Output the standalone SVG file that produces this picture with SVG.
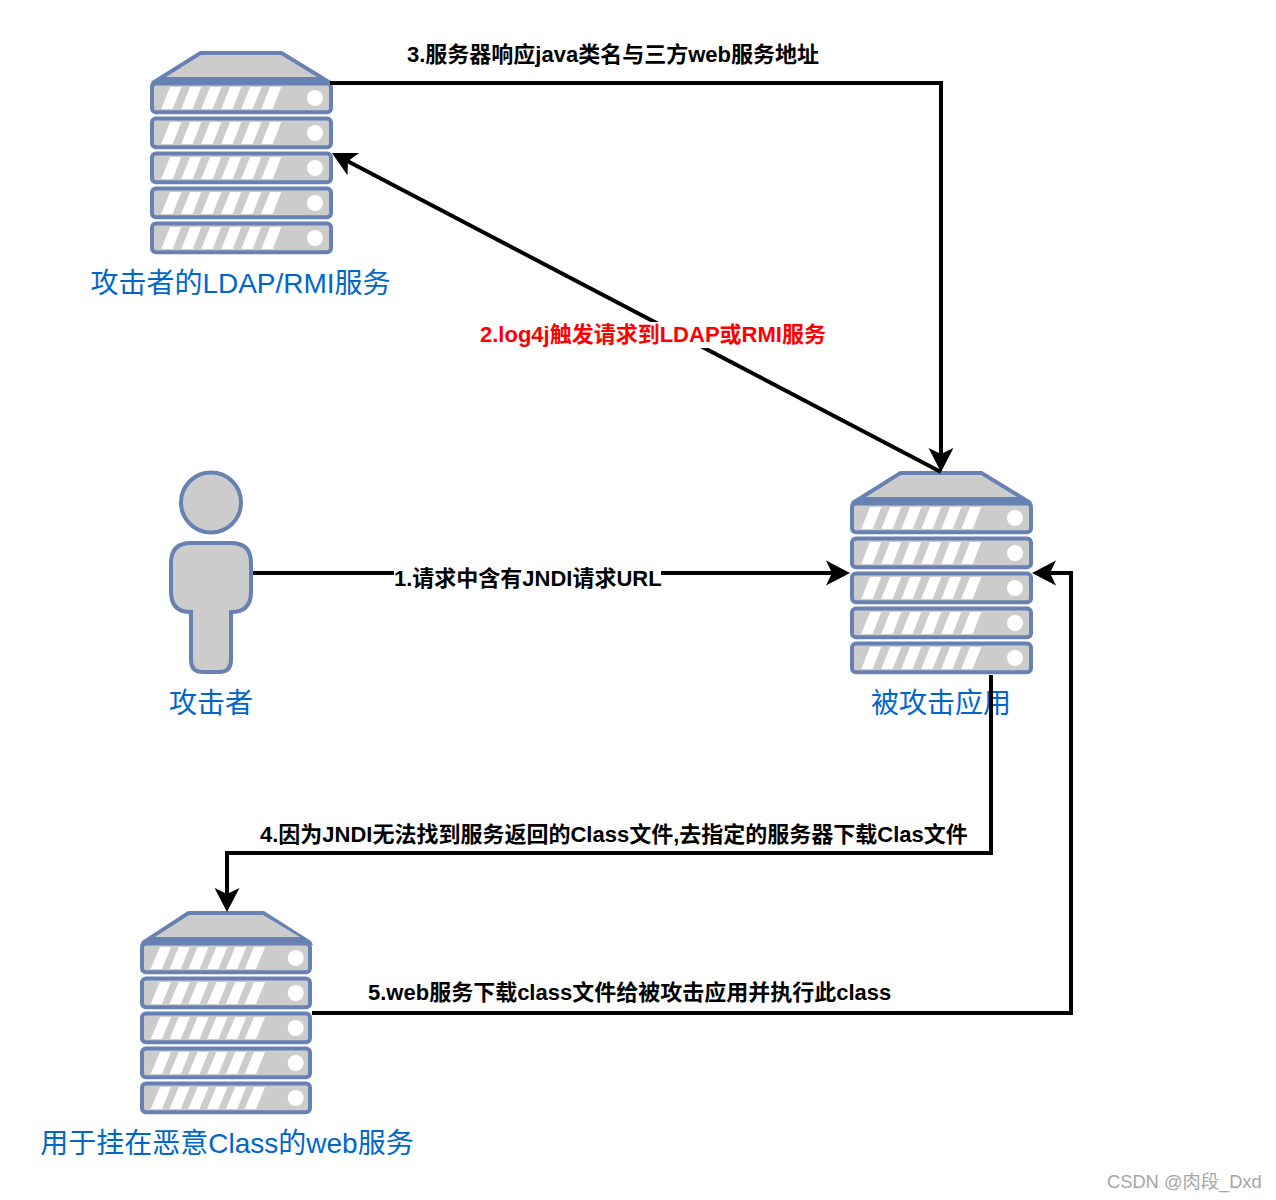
<svg xmlns="http://www.w3.org/2000/svg" width="1276" height="1200" viewBox="0 0 1276 1200">
<style>
text{font-family:"Liberation Sans","Noto Sans CJK SC",sans-serif}
.nl{font-size:28px;fill:#0066CC;text-anchor:middle}
.el{font-size:22px;font-weight:bold;fill:#000}
.bar{fill:#CCCCCC;stroke:#6881B3;stroke-width:4}
.tb{fill:#6881B3}
.tg{fill:#CCCCCC}
.w{fill:#fff}
.c{fill:none;stroke:#000;stroke-width:4;stroke-linejoin:miter}
</style>
<defs>
<marker id="arr" markerUnits="userSpaceOnUse" markerWidth="26" markerHeight="28" viewBox="0 -14 26 28" refX="18" refY="0" orient="auto">
<path d="M0,-12.500 L24,0 L0,12.500 L6,0 Z" fill="#000"/>
</marker>
<path id="sl" d="M161.300,109 L170,87 L181.300,87 L172.700,109 Z" class="w"/>
<g id="row">
<rect class="bar" x="152" y="83.500" width="179" height="28.700" rx="4"/>
<use href="#sl"/><use href="#sl" x="20"/><use href="#sl" x="40"/><use href="#sl" x="60"/><use href="#sl" x="80"/><use href="#sl" x="100"/>
<circle class="w" cx="315" cy="98" r="8"/>
</g>
<g id="srv">
<path class="tb" d="M150,85 L152,81 L200,51 L282,51 L331,81 L333,85 Z"/>
<path class="tg" d="M166,77 L201,55 L281,55 L317,77 Z"/>
<use href="#row"/><use href="#row" y="35"/><use href="#row" y="70"/><use href="#row" y="105"/><use href="#row" y="140"/>
</g>
<path id="sl3" d="M150.700,969 L160,947 L171,947 L162,969 Z" class="w"/>
<g id="row3">
<rect class="bar" x="142" y="943.500" width="168" height="28.700" rx="4"/>
<use href="#sl3"/><use href="#sl3" x="18.800"/><use href="#sl3" x="37.600"/><use href="#sl3" x="56.400"/><use href="#sl3" x="75.200"/><use href="#sl3" x="94"/>
<circle class="w" cx="295.700" cy="958" r="8"/>
</g>
</defs>
<rect width="1276" height="1200" fill="#fff"/>
<g id="node-ldap">
<use href="#srv"/>
<text class="nl" x="240.500" y="293">攻击者的LDAP/RMI服务</text>
</g>
<g id="node-target">
<use href="#srv" transform="translate(700,420)"/>
<text class="nl" x="941" y="713">被攻击应用</text>
</g>
<g id="node-attacker">
<circle class="bar" cx="211" cy="502.500" r="30"/>
<path class="bar" d="M191,543 L231,543 Q251,543 251,563 L251,592 Q251,612 231,612 L231,660 Q231,672 219,672 L203,672 Q191,672 191,660 L191,612 Q171,612 171,592 L171,563 Q171,543 191,543 Z"/>
<text class="nl" x="211" y="713">攻击者</text>
</g>
<g id="node-web">
<path class="tb" d="M140,945 L142,941 L188,911 L264,911 L311,941 L313,945 Z"/>
<path class="tg" d="M155,937 L189,915 L263,915 L300,937 Z"/>
<use href="#row3"/><use href="#row3" y="35"/><use href="#row3" y="70"/><use href="#row3" y="105"/><use href="#row3" y="140"/>
<text class="nl" x="227" y="1153">用于挂在恶意Class的web服务</text>
</g>
<g id="connectors">
<path class="c" marker-end="url(#arr)" d="M253,573 L844,573"/>
<path class="c" marker-end="url(#arr)" d="M941,472 L337.300,155.800"/>
<path class="c" marker-end="url(#arr)" d="M330,83 L941,83 L941,466"/>
<path class="c" marker-end="url(#arr)" d="M991,675 L991,853 L227,853 L227,906"/>
<path class="c" marker-end="url(#arr)" d="M312,1013 L1071,1013 L1071,573 L1038,573"/>
<rect class="w" x="394" y="566" width="267" height="24"/>
<text class="el" x="394" y="586">1.请求中含有JNDI请求URL</text>
<rect class="w" x="480" y="322" width="346" height="26"/>
<text class="el" x="480" y="342" style="fill:#FF0000">2.log4j触发请求到LDAP或RMI服务</text>
<text class="el" x="407" y="62">3.服务器响应java类名与三方web服务地址</text>
<text class="el" x="260" y="842">4.因为JNDI无法找到服务返回的Class文件,去指定的服务器下载Clas文件</text>
<text class="el" x="368" y="1000">5.web服务下载class文件给被攻击应用并执行此class</text>
</g>
<text x="1107" y="1188" style="font-size:18.300px;fill:#A6A6A6">CSDN @肉段_Dxd</text>
</svg>
